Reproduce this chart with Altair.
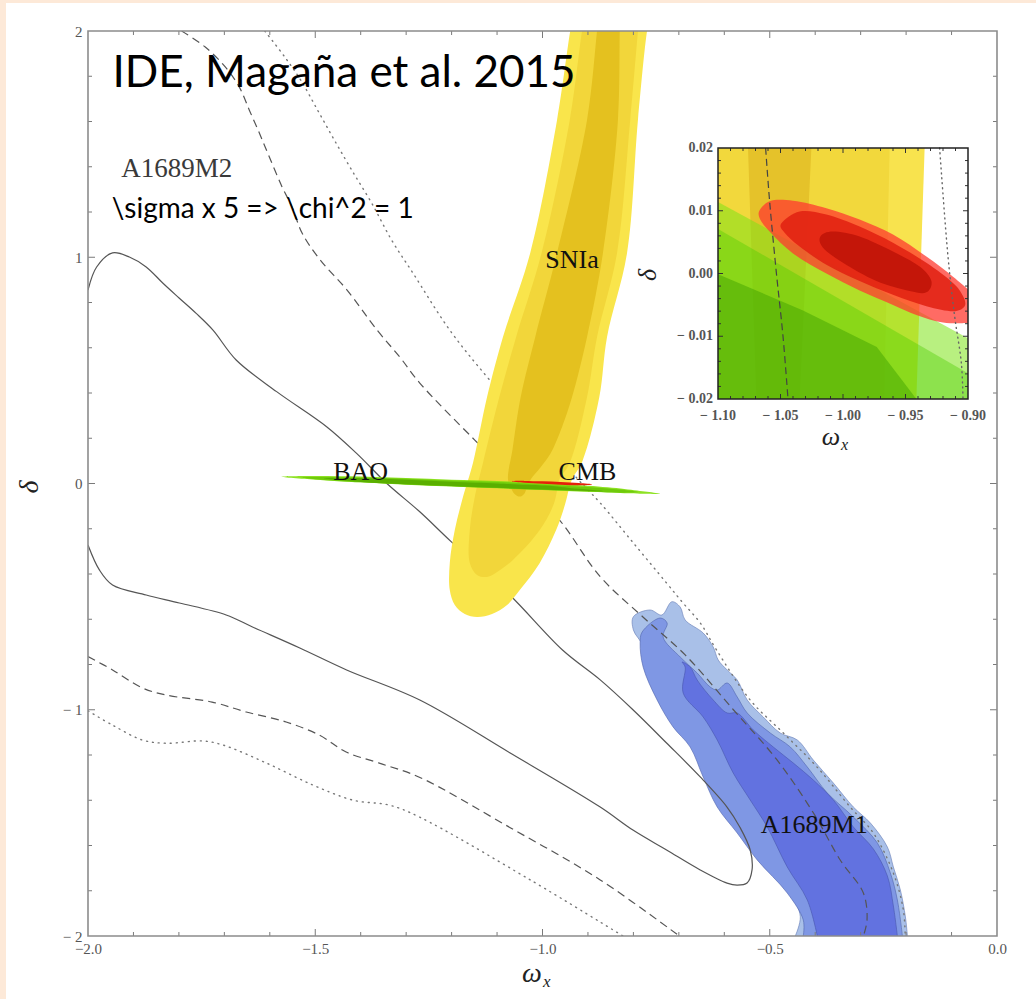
import altair as alt
import pandas as pd

W, H = 909, 905
SERIF = "Liberation Serif"
SANS = "Lato"

# ---------------- main panel: omega_x vs delta ----------------
# A1689M2 contours (lines)
m2_solid_x = [-2.0, -1.981, -1.946, -1.909, -1.872, -1.835, -1.799, -1.762, -1.725, -1.674, -1.585,
              -1.475, -1.409, -1.343, -1.270, -1.201, -1.072, -0.956, -0.873, -0.801, -0.727, -0.653,
              -0.594, -0.566, -0.543, -0.539, -0.550, -0.572, -0.594, -0.653, -0.727, -0.801, -0.873,
              -1.072, -1.270, -1.431, -1.534, -1.638, -1.696, -1.799, -1.872, -1.946, -1.975, -2.0]
m2_solid_y = [0.855, 0.957, 1.019, 1.001, 0.957, 0.885, 0.819, 0.752, 0.678, 0.546, 0.406,
              0.251, 0.133, 0.001, -0.125, -0.257, -0.493, -0.736, -0.868, -1.0, -1.147, -1.297,
              -1.43, -1.518, -1.62, -1.708, -1.766, -1.775, -1.766, -1.708, -1.62, -1.532, -1.43,
              -1.19, -0.957, -0.824, -0.727, -0.634, -0.581, -0.528, -0.493, -0.449, -0.382, -0.272]

m2_dash_x = [-1.794, -1.742, -1.698, -1.667, -1.645, -1.623, -1.601, -1.573, -1.551, -1.529, -1.489,
             -1.430, -1.364, -1.314, -1.270, -1.149, -1.0619, -1.044, -0.969, -0.873, -0.779, -0.685,
             -0.580, -0.484, -0.404, -0.345, -0.294, -0.286, -0.294]
m2_dash_y = [2.0, 1.929, 1.841, 1.752, 1.65, 1.549, 1.443, 1.311, 1.222, 1.107, 0.988,
             0.855, 0.678, 0.559, 0.444, 0.192, 0.02, -0.02, -0.147, -0.412, -0.59, -0.76,
             -1.0, -1.222, -1.456, -1.664, -1.81, -1.93, -2.0]

m2_dash_low_x = [-2.0, -1.946, -1.880, -1.828, -1.727, -1.652, -1.564, -1.491, -1.432, -1.359,
                 -1.271, -1.072, -0.873, -0.699]
m2_dash_low_y = [-0.765, -0.824, -0.904, -0.935, -0.966, -1.010, -1.054, -1.112, -1.187, -1.236,
                 -1.298, -1.520, -1.752, -2.0]

m2_dot_x = [-1.611, -1.567, -1.532, -1.495, -1.458, -1.420, -1.376, -1.332, -1.285, -1.204,
            -1.116, -0.9227, -0.904, -0.873, -0.800, -0.727, -0.690, -0.653, -0.617, -0.543, -0.470,
            -0.396, -0.323, -0.272, -0.228, -0.206, -0.202]
m2_dot_y = [2.0, 1.885, 1.783, 1.651, 1.518, 1.386, 1.24, 1.076, 0.93, 0.678,
            0.457, 0.02, -0.02, -0.086, -0.263, -0.44, -0.53, -0.616, -0.736, -0.957, -1.103,
            -1.253, -1.43, -1.545, -1.722, -1.885, -2.0]

m2_dot_low_x = [-2.0, -1.946, -1.880, -1.828, -1.748, -1.703, -1.607, -1.505, -1.416, -1.336,
                -1.270, -1.027, -0.823]
m2_dot_low_y = [-1.005, -1.068, -1.134, -1.148, -1.138, -1.156, -1.236, -1.333, -1.400, -1.422,
                -1.475, -1.752, -2.0]

# A1689M1 confidence regions (outer, middle, inner)
m1_out_x = [-0.4438, -0.4328, -0.4548, -0.5062, -0.565, -0.609, -0.6311, -0.6678, -0.7264, -0.7632,
            -0.778, -0.800, -0.800, -0.7632, -0.7374, -0.7154, -0.6971, -0.6861, -0.6465, -0.6244,
            -0.6134, -0.5936, -0.5716, -0.5496, -0.5143, -0.4769, -0.4394, -0.4042, -0.3601, -0.3161,
            -0.2786, -0.2412, -0.2280, -0.2126, -0.2015, -0.1971]
m1_out_y = [-2.0, -1.9147, -1.8113, -1.6937, -1.546, -1.40, -1.2517, -1.1041, -1.0, -0.8831,
            -0.7213, -0.6475, -0.5887, -0.5591, -0.5812, -0.5224, -0.5459, -0.6033, -0.6608, -0.7227,
            -0.7801, -0.8243, -0.8685, -0.9569, -1.0320, -1.1028, -1.1337, -1.2221, -1.3238, -1.4298,
            -1.5006, -1.6066, -1.6950, -1.7967, -1.9160, -2.0]
m1_mid_x = [-0.4262, -0.4262, -0.4615, -0.5275, -0.5716, -0.6156, -0.6465, -0.6751, -0.7126, -0.7478,
            -0.7786, -0.7852, -0.7808, -0.7412, -0.7258, -0.7346, -0.6971, -0.6597, -0.6311, -0.6156,
            -0.5936, -0.5716, -0.5496, -0.4989, -0.4548, -0.4174, -0.3733, -0.3161, -0.2632, -0.2346,
            -0.2192, -0.2081]
m1_mid_y = [-2.0, -1.9293, -1.8099, -1.6641, -1.5448, -1.4298, -1.2972, -1.1646, -1.0762, -0.9569,
            -0.8110, -0.7050, -0.6564, -0.5945, -0.6166, -0.6785, -0.7669, -0.8376, -0.8994, -0.9127,
            -0.8818, -0.9436, -1.0144, -1.1028, -1.1646, -1.2530, -1.3680, -1.4740, -1.5890, -1.7215,
            -1.8409, -2.0]
m1_in_x = [-0.3954, -0.4174, -0.4615, -0.5055, -0.5430, -0.5804, -0.6156, -0.6465, -0.6905, -0.6861,
           -0.6927, -0.6751, -0.6597, -0.6244, -0.5936, -0.5716, -0.5363, -0.4923, -0.4482, -0.4042,
           -0.3601, -0.3161, -0.2720, -0.2412, -0.2280, -0.2192]
m1_in_y = [-2.0, -1.8409, -1.6950, -1.5182, -1.3989, -1.2796, -1.1337, -1.0320, -0.9260, -0.8110,
           -0.7890, -0.8110, -0.8685, -0.9569, -1.0144, -1.0144, -1.0895, -1.1646, -1.2354, -1.3105,
           -1.3989, -1.5182, -1.6155, -1.7348, -1.8674, -2.0]

# SNIa confidence regions
sn_out_x = [-0.765, -0.770, -0.790, -0.814, -0.858, -0.875, -0.912, -0.9347, -0.9413, -0.950,
            -0.970, -1.006, -1.050, -1.078, -1.111, -1.144, -1.171, -1.193, -1.204, -1.204,
            -1.193, -1.175, -1.153, -1.122, -1.087, -1.027, -0.968, -0.939, -0.934]
sn_out_y = [2.05, 2.0, 1.607, 1.019, 0.648, 0.382, 0.10, 0.02, -0.02, -0.09,
            -0.206, -0.351, -0.471, -0.537, -0.577, -0.590, -0.577, -0.537, -0.471, -0.351,
            -0.206, -0.060, 0.091, 0.382, 0.648, 1.019, 1.607, 2.0, 2.05]
sn_mid_x = [-0.788, -0.790, -0.807, -0.836, -0.880, -0.902, -0.940, -0.9627, -0.967, -0.975,
            -1.006, -1.065, -1.100, -1.122, -1.144, -1.160, -1.160, -1.149, -1.131, -1.095,
            -1.058, -1.002, -0.940, -0.913, -0.908]
sn_mid_y = [2.05, 2.0, 1.607, 1.019, 0.648, 0.382, 0.091, 0.02, -0.02, -0.09,
            -0.206, -0.338, -0.391, -0.413, -0.404, -0.351, -0.206, -0.060, 0.091, 0.382,
            0.648, 1.019, 1.607, 2.0, 2.05]
sn_in_x = [-0.829, -0.830, -0.834, -0.867, -0.902, -0.935, -0.957, -0.983, -1.005, -1.0253,
           -1.0347, -1.040, -1.050, -1.062, -1.0693, -1.076, -1.066, -1.048, -1.016, -0.968,
           -0.902, -0.880, -0.877]
sn_in_y = [2.05, 2.0, 1.607, 1.019, 0.648, 0.382, 0.25, 0.13, 0.07, 0.02,
           -0.02, -0.045, -0.058, -0.045, -0.02, 0.02, 0.15, 0.382, 0.648, 1.019,
           1.607, 2.0, 2.05]

# BAO confidence regions
bao_out_x = [-1.574, -1.50, -1.40, -1.30, -1.20, -1.10, -1.00, -0.90, -0.82, -0.77, -0.741,
             -0.77, -0.82, -0.90, -1.00, -1.10, -1.20, -1.30, -1.40, -1.50]
bao_out_y = [0.030, 0.0335, 0.031, 0.0245, 0.017, 0.0114, 0.0007, -0.0103, -0.024, -0.037, -0.046,
             -0.0455, -0.043, -0.037, -0.029, -0.021, -0.013, -0.005, 0.005, 0.017]
bao_mid_x = [-1.53, -1.45, -1.30, -1.20, -1.10, -1.00, -0.90, -0.83, -0.79,
             -0.83, -0.90, -1.00, -1.10, -1.20, -1.30, -1.45]
bao_mid_y = [0.026, 0.028, 0.0215, 0.0135, 0.0071, -0.0044, -0.0159, -0.027, -0.038,
             -0.0405, -0.0355, -0.028, -0.020, -0.012, -0.004, 0.011]
bao_in_x = [-1.48, -1.40, -1.30, -1.20, -1.10, -1.032, -0.973, -0.94, -0.90, -0.866,
            -0.90, -1.00, -1.10, -1.20, -1.30, -1.40]
bao_in_y = [0.022, 0.0235, 0.017, 0.0075, 0.0, -0.0059, -0.0117, -0.0196, -0.026, -0.033,
            -0.0335, -0.027, -0.019, -0.011, -0.0035, 0.007]

# CMB region
cmb_x = [-1.067, -1.04, -1.00, -0.96, -0.92, -0.891, -0.92, -0.96, -1.00, -1.04]
cmb_y = [0.0099, 0.0116, 0.0095, 0.0062, 0.002, -0.004, -0.0078, -0.005, -0.0015, 0.0032]

# ---------------- inset: zoom around (-1, 0) ----------------
in_sn_out_x = [-1.10, -0.9347, -0.9413, -1.10]
in_sn_mid_x = [-1.10, -0.9627, -0.967, -1.10]
in_sn_in_x = [-1.076, -1.0253, -1.0347, -1.0693]
in_sn_y = [0.02, 0.02, -0.02, -0.02]

in_bao1_x = [-1.10, -0.90, -0.90, -1.10]
in_bao1_y = [0.0114, -0.0103, -0.02, -0.02]
in_bao2_x = [-1.10, -0.90, -0.90, -1.10]
in_bao2_y = [0.0071, -0.0159, -0.02, -0.02]
in_bao3_x = [-1.10, -1.10, -1.032, -0.973, -0.9413]
in_bao3_y = [-0.02, -0.0001, -0.0059, -0.0117, -0.02]

in_cmb1_x = [-0.90, -0.912, -0.9333, -0.96, -0.9867, -1.0133, -1.04, -1.0587, -1.0672, -1.0667,
             -1.0587, -1.04, -1.0133, -0.9867, -0.96, -0.9413, -0.92, -0.90]
in_cmb1_y = [-0.0025, -0.0005, 0.0027, 0.0062, 0.0086, 0.0104, 0.0116, 0.0115, 0.0099, 0.0088,
             0.0067, 0.0032, 0.0000, -0.0027, -0.0050, -0.0066, -0.0078, -0.0079]
in_cmb2_x = [-1.0493, -1.0347, -1.0133, -0.9867, -0.96, -0.9333, -0.912, -0.904, -0.9027,
             -0.912, -0.9333, -0.96, -0.9867, -1.0133, -1.0347, -1.0467]
in_cmb2_y = [0.0080, 0.0099, 0.0094, 0.0075, 0.0049, 0.0017, -0.0015, -0.0036, -0.0052,
             -0.0060, -0.0052, -0.0034, -0.0012, 0.0014, 0.0043, 0.0065]
in_cmb3_x = [-1.0181, -1.008, -0.9867, -0.96, -0.9387, -0.9293, -0.9333, -0.9467, -0.9733, -1.0, -1.016]
in_cmb3_y = [0.0059, 0.0067, 0.0059, 0.0035, 0.0011, -0.0012, -0.0030, -0.0028, -0.0012, 0.0017, 0.0041]

in_dash_x = [-1.0619, -1.0587, -1.0533, -1.048, -1.044]
in_dash_y = [0.02, 0.0115, 0.0001, -0.01, -0.02]
in_dot_x = [-0.9227, -0.916, -0.9107, -0.9053, -0.904]
in_dot_y = [0.02, 0.0027, -0.0068, -0.0143, -0.02]

# ---------------- axes / ticks ----------------
main_x_major = [-1.5, -1.0, -0.5]
main_x_minor = [-1.9, -1.8, -1.7, -1.6, -1.4, -1.3, -1.2, -1.1, -0.9, -0.8, -0.7, -0.6, -0.4, -0.3, -0.2, -0.1]
main_y_major = [-1.0, 0.0, 1.0]
main_y_minor = [-1.8, -1.6, -1.4, -1.2, -0.8, -0.6, -0.4, -0.2, 0.2, 0.4, 0.6, 0.8, 1.2, 1.4, 1.6, 1.8]

in_x_major = [-1.05, -1.00, -0.95]
in_x_minor = [-1.09, -1.08, -1.07, -1.06, -1.04, -1.03, -1.02, -1.01, -0.99, -0.98, -0.97, -0.96,
              -0.94, -0.93, -0.92, -0.91]
in_y_major = [-0.01, 0.0, 0.01]
in_y_minor = [-0.018, -0.016, -0.014, -0.012, -0.008, -0.006, -0.004, -0.002,
              0.002, 0.004, 0.006, 0.008, 0.012, 0.014, 0.016, 0.018]
in_x_labels = ["\u2212 1.10", "\u2212 1.05", "\u2212 1.00", "\u2212 0.95", "\u2212 0.90"]
in_x_vals = [-1.10, -1.05, -1.00, -0.95, -0.90]
in_y_labels = ["0.02", "0.01", "0.00", "\u2212 0.01", "\u2212 0.02"]
in_y_vals = [0.02, 0.01, 0.0, -0.01, -0.02]

MX = alt.Scale(domain=[-2.0, 0.0], nice=False, zero=False)
MY = alt.Scale(domain=[-2.0, 2.0], nice=False, zero=False)
IX = alt.Scale(domain=[-1.10, -0.90], range=[630, 880], nice=False, zero=False)
IY = alt.Scale(domain=[-0.02, 0.02], range=[368, 117], nice=False, zero=False)

X_AXIS = alt.Axis(values=[-2, -1.5, -1, -0.5, 0],
                  labelExpr="datum.value < 0 ? '\u2212' + format(-datum.value, '.1f') : format(datum.value, '.1f')",
                  ticks=False, domain=False, grid=False, title=None, labelFont=SERIF,
                  labelFontSize=15, labelColor="#555", labelPadding=5, labelFlush=False,
                  labelOverlap=False, zindex=1)
Y_AXIS = alt.Axis(values=[-2, -1, 0, 1, 2],
                  labelExpr="datum.value < 0 ? '\u2212 ' + format(-datum.value, 'd') : format(datum.value, 'd')",
                  ticks=False, domain=False, grid=False, title=None, labelFont=SERIF,
                  labelFontSize=15, labelColor="#555", labelPadding=6, labelFlush=False,
                  labelOverlap=False, zindex=1)


def mx(f="x"):
    return alt.X(f"{f}:Q", scale=MX, axis=X_AXIS)


def my(f="y"):
    return alt.Y(f"{f}:Q", scale=MY, axis=Y_AXIS)


def ixe(f="x"):
    return alt.X(f"{f}:Q", scale=IX, axis=None)


def iye(f="y"):
    return alt.Y(f"{f}:Q", scale=IY, axis=None)


MAIN = (mx, my)
INSET = (ixe, iye)


def frame_df(xs, ys):
    return pd.DataFrame({"x": xs, "y": ys, "k": list(range(len(xs)))})


def region(xs, ys, fill, enc, interp="linear", opacity=1.0, stroke=None, sw=0.0, clip=True):
    props = dict(fill=fill, fillOpacity=opacity, interpolate=interp, clip=clip)
    if stroke:
        props.update(stroke=stroke, strokeWidth=sw, strokeOpacity=0.8)
    else:
        props.update(stroke=fill, strokeOpacity=0, strokeWidth=0)
    return alt.Chart(frame_df(xs, ys)).mark_line(**props).encode(
        x=enc[0](), y=enc[1](), order="k:Q")


def curve(xs, ys, color, width, enc, dash=None, interp="catmull-rom", cap="butt", clip=True):
    props = dict(stroke=color, strokeWidth=width, interpolate=interp, clip=clip, strokeCap=cap)
    if dash:
        props["strokeDash"] = dash
    return alt.Chart(frame_df(xs, ys)).mark_line(**props).encode(
        x=enc[0](), y=enc[1](), order="k:Q")


def note(text, x, y, enc, font, size, color="#111", align="center", **kw):
    df = pd.DataFrame({"x": [x], "y": [y], "t": [text]})
    return alt.Chart(df).mark_text(font=font, fontSize=size, color=color, align=align,
                                   baseline="alphabetic", **kw).encode(
        x=enc[0](), y=enc[1](), text="t:N")


def xticks(vals, enc, y0, y1, color, width=1.0):
    return alt.Chart(pd.DataFrame({"v": vals})).mark_rule(color=color, strokeWidth=width).encode(
        x=enc[0]("v"), y=alt.value(y0), y2=alt.value(y1))


def yticks(vals, enc, x0, x1, color, width=1.0):
    return alt.Chart(pd.DataFrame({"v": vals})).mark_rule(color=color, strokeWidth=width).encode(
        y=enc[1]("v"), x=alt.value(x0), x2=alt.value(x1))


one = pd.DataFrame({"a": [0]})
PEACH = "#fde9d8"
TICK = "#7a7a7a"

main_layers = [
    # page edge strips
    alt.Chart(one).mark_rect(color=PEACH).encode(
        x=alt.value(-88), x2=alt.value(948), y=alt.value(-31), y2=alt.value(-28)),
    alt.Chart(one).mark_rect(color=PEACH).encode(
        x=alt.value(-88), x2=alt.value(-82), y=alt.value(-31), y2=alt.value(968)),
    # A1689M1
    region(m1_out_x, m1_out_y, "#a9c0e8", MAIN, "catmull-rom", stroke="#6a7fb8", sw=0.8),
    region(m1_mid_x, m1_mid_y, "#7f97e4", MAIN, "catmull-rom", stroke="#5468b0", sw=0.8),
    region(m1_in_x, m1_in_y, "#6272e0", MAIN, "catmull-rom", stroke="#4a58b0", sw=0.8),
    # A1689M2 contours
    curve(m2_solid_x, m2_solid_y, "#555", 1.2, MAIN),
    curve(m2_dash_x, m2_dash_y, "#555", 1.2, MAIN, dash=[8, 5]),
    curve(m2_dash_low_x, m2_dash_low_y, "#555", 1.2, MAIN, dash=[8, 5]),
    curve(m2_dot_x, m2_dot_y, "#777", 1.4, MAIN, dash=[1, 5], cap="round"),
    curve(m2_dot_low_x, m2_dot_low_y, "#777", 1.4, MAIN, dash=[1, 5], cap="round"),
    # SNIa
    region(sn_out_x, sn_out_y, "#f9e54b", MAIN, "catmull-rom"),
    region(sn_mid_x, sn_mid_y, "#f2d63a", MAIN, "catmull-rom"),
    region(sn_in_x, sn_in_y, "#e4c11f", MAIN, "catmull-rom"),
    # BAO
    region(bao_out_x, bao_out_y, "#84e010", MAIN, "cardinal-closed", opacity=0.92),
    region(bao_mid_x, bao_mid_y, "#6cc80a", MAIN, "cardinal-closed", opacity=0.92),
    region(bao_in_x, bao_in_y, "#58ad00", MAIN, "cardinal-closed", opacity=0.92),
    # CMB
    region(cmb_x, cmb_y, "#e5200a", MAIN, "cardinal-closed"),
    # labels
    note("IDE, Maga\u00f1a et al. 2015", -1.946, 1.751, MAIN, SANS, 44, color="#000", align="left"),
    note(r"\sigma x 5 => \chi^2 = 1", -1.948, 1.172, MAIN, SANS, 28, color="#000", align="left"),
    note("A1689M2", -1.927, 1.355, MAIN, SERIF, 27, color="#3a3a3a", align="left"),
    note("SNIa", -0.935, 0.952, MAIN, SERIF, 26),
    note("BAO", -1.400, 0.015, MAIN, SERIF, 26),
    note("CMB", -0.901, 0.015, MAIN, SERIF, 26),
    note("A1689M1", -0.402, -1.545, MAIN, SERIF, 26),
    # ticks (inward, all four sides)
    xticks(main_x_major, MAIN, H, H - 7, TICK),
    xticks(main_x_minor, MAIN, H, H - 4, TICK),
    xticks(main_x_major, MAIN, 0, 7, TICK),
    xticks(main_x_minor, MAIN, 0, 4, TICK),
    yticks(main_y_major, MAIN, 0, 7, TICK),
    yticks(main_y_minor, MAIN, 0, 4, TICK),
    yticks(main_y_major, MAIN, W, W - 7, TICK),
    yticks(main_y_minor, MAIN, W, W - 4, TICK),
    # frame
    alt.Chart(one).mark_rect(fillOpacity=0, stroke="#8c8c8c", strokeWidth=1.6).encode(
        x=alt.value(0), x2=alt.value(W), y=alt.value(0), y2=alt.value(H)),
    # axis titles
    alt.Chart(one).mark_text(text="\u03c9", font=SERIF, fontSize=28, fontStyle="italic",
                             color="#222", align="center", baseline="alphabetic").encode(
        x=alt.value(444), y=alt.value(951)),
    alt.Chart(one).mark_text(text="x", font=SERIF, fontSize=17, fontStyle="italic",
                             color="#222", align="left", baseline="alphabetic").encode(
        x=alt.value(455), y=alt.value(956)),
    alt.Chart(one).mark_text(text="\u03b4", font=SERIF, fontSize=28, fontStyle="italic",
                             color="#222", align="center", baseline="middle", angle=270).encode(
        x=alt.value(-58), y=alt.value(456)),
]

inset_rect = pd.DataFrame({"x": [-1.10], "x2": [-0.90], "y": [-0.02], "y2": [0.02]})

inset_layers = [
    alt.Chart(inset_rect).mark_rect(color="white").encode(
        x=ixe("x"), x2="x2:Q", y=iye("y"), y2="y2:Q"),
    region(in_sn_out_x, in_sn_y, "#f8e34e", INSET, clip=False),
    region(in_sn_mid_x, in_sn_y, "#f2d83c", INSET, clip=False),
    region(in_sn_in_x, in_sn_y, "#e5c22a", INSET, clip=False),
    region(in_bao1_x, in_bao1_y, "#7ee418", INSET, opacity=0.55, clip=False),
    region(in_bao2_x, in_bao2_y, "#4ecd00", INSET, opacity=0.4, clip=False),
    region(in_bao3_x, in_bao3_y, "#42a400", INSET, opacity=0.5, clip=False),
    region(in_cmb1_x, in_cmb1_y, "#ff3a30", INSET, "catmull-rom", opacity=0.75, clip=False),
    region(in_cmb2_x, in_cmb2_y, "#e02010", INSET, "cardinal-closed", opacity=0.85, clip=False),
    region(in_cmb3_x, in_cmb3_y, "#c01408", INSET, "cardinal-closed", opacity=0.9, clip=False),
    curve(in_dash_x, in_dash_y, "#444", 1.2, INSET, dash=[7, 4], clip=False),
    curve(in_dot_x, in_dot_y, "#666", 1.4, INSET, dash=[1, 4], cap="round", clip=False),
    xticks(in_x_major, INSET, 368, 363, "#333"),
    xticks(in_x_minor, INSET, 368, 365, "#333"),
    xticks(in_x_major, INSET, 117, 122, "#333"),
    xticks(in_x_minor, INSET, 117, 120, "#333"),
    yticks(in_y_major, INSET, 630, 635, "#333"),
    yticks(in_y_minor, INSET, 630, 633, "#333"),
    yticks(in_y_major, INSET, 880, 875, "#333"),
    yticks(in_y_minor, INSET, 880, 877, "#333"),
    alt.Chart(inset_rect).mark_rect(fillOpacity=0, stroke="#222", strokeWidth=1.5).encode(
        x=ixe("x"), x2="x2:Q", y=iye("y"), y2="y2:Q"),
    alt.Chart(pd.DataFrame({"v": in_x_vals, "t": in_x_labels})).mark_text(
        font=SERIF, fontSize=14, fontWeight="bold", color="#555", align="center",
        baseline="alphabetic").encode(x=ixe("v"), y=alt.value(389), text="t:N"),
    alt.Chart(pd.DataFrame({"v": in_y_vals, "t": in_y_labels})).mark_text(
        font=SERIF, fontSize=14, fontWeight="bold", color="#555", align="right",
        baseline="middle").encode(y=iye("v"), x=alt.value(625), text="t:N"),
    alt.Chart(one).mark_text(text="\u03c9", font=SERIF, fontSize=26, fontStyle="italic",
                             color="#222", align="center", baseline="alphabetic").encode(
        x=alt.value(743), y=alt.value(414)),
    alt.Chart(one).mark_text(text="x", font=SERIF, fontSize=16, fontStyle="italic",
                             color="#222", align="left", baseline="alphabetic").encode(
        x=alt.value(753), y=alt.value(419)),
    alt.Chart(one).mark_text(text="\u03b4", font=SERIF, fontSize=26, fontStyle="italic",
                             color="#222", align="center", baseline="middle", angle=270).encode(
        x=alt.value(560), y=alt.value(244)),
]

chart = alt.layer(
    alt.layer(*main_layers),
    alt.layer(*inset_layers),
).resolve_scale(
    x="independent", y="independent"
).properties(
    width=W, height=H,
    padding={"left": 88, "top": 31, "right": 39, "bottom": 63},
    autosize=alt.AutoSizeParams(type="none"),
    background="white",
).configure_view(strokeWidth=0)

chart.save("out.html", embed_options={"renderer": "svg", "actions": False})
